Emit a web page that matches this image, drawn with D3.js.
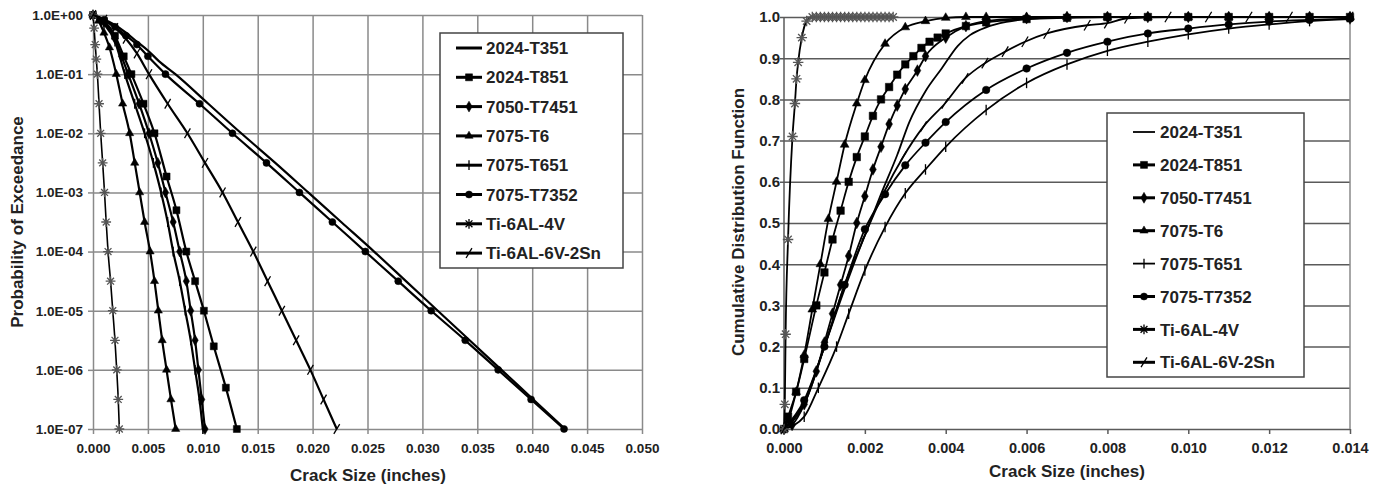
<!DOCTYPE html>
<html>
<head>
<meta charset="utf-8">
<script src="https://cdn.jsdelivr.net/npm/d3@7"></script>
<style>
  body { margin: 0; background: #fff; }
  svg { display: block; }
  text { font-family: Arial, "Liberation Sans", sans-serif; font-weight: bold; fill: #222; }
</style>
</head>
<body>
<svg id="chart" width="1386" height="486"></svg>
<script>
// series names (legend order)
var seriesNames = ["2024-T351", "2024-T851", "7050-T7451", "7075-T6", "7075-T651", "7075-T7352", "Ti-6AL-4V", "Ti-6AL-6V-2Sn"];

// left chart: probability of exceedance vs crack size (inches)
var exc2024T351 = [[0,1],[0.001,0.851],[0.002,0.676],[0.003,0.501],[0.004,0.355],[0.005,0.251],[0.006,0.166],[0.0075,0.1],[0.0105,0.0316],[0.0135,0.01],[0.0166,3.16e-3],[0.0196,1e-3],[0.0226,3.16e-4],[0.0256,1e-4],[0.0285,3.16e-5],[0.0314,1e-5],[0.0343,3.16e-6],[0.0372,1e-6],[0.0401,3.16e-7],[0.043,1e-7]];
var exc2024T851 = [[0,1],[0.001,0.794],[0.002,0.447],[0.0028,0.2],[0.0035,0.1],[0.0046,0.0316],[0.0056,0.01],[0.0067,1.86e-3],[0.0076,5e-4],[0.0085,1e-4],[0.0093,3.16e-5],[0.0101,1e-5],[0.011,2.5e-6],[0.0121,5e-7],[0.0131,1e-7]];
var exc7050T7451 = [[0,1],[0.001,0.759],[0.002,0.398],[0.0026,0.2],[0.0032,0.1],[0.0042,0.0316],[0.0051,0.01],[0.0059,3.16e-3],[0.0066,1e-3],[0.0073,3.16e-4],[0.0079,1e-4],[0.0085,3.16e-5],[0.0089,1e-5],[0.0093,3.16e-6],[0.0096,1e-6],[0.0099,3.16e-7],[0.0102,1e-7]];
var exc7075T6 = [[0,1],[0.0005,0.794],[0.001,0.501],[0.0015,0.282],[0.00212,0.1],[0.0027,0.0316],[0.00334,0.01],[0.0038,3.16e-3],[0.00425,1e-3],[0.0047,3.16e-4],[0.0052,1e-4],[0.0056,3.16e-5],[0.00595,1e-5],[0.0063,3.16e-6],[0.0067,1e-6],[0.0071,3.16e-7],[0.00753,1e-7]];
var exc7075T651 = [[0,1],[0.001,0.708],[0.002,0.355],[0.0029,0.1],[0.0038,0.0316],[0.0047,0.01],[0.0055,3.16e-3],[0.0062,1e-3],[0.0068,3.16e-4],[0.0073,1e-4],[0.0079,3.16e-5],[0.0084,1e-5],[0.0089,3.16e-6],[0.0093,1e-6],[0.0097,3.16e-7],[0.0100,1e-7]];
var exc7075T7352 = [[0,1],[0.001,0.832],[0.002,0.631],[0.003,0.447],[0.004,0.316],[0.005,0.2],[0.0066,0.1],[0.0097,0.0316],[0.0127,0.01],[0.0158,3.16e-3],[0.0188,1e-3],[0.0218,3.16e-4],[0.0248,1e-4],[0.0278,3.16e-5],[0.0308,1e-5],[0.0339,3.16e-6],[0.0369,1e-6],[0.0399,3.16e-7],[0.0429,1e-7]];
var excTi6Al4V = [[0,1],[0.0001,0.6],[0.0002,0.316],[0.0003,0.18],[0.0004,0.1],[0.00055,0.0316],[0.0007,0.01],[0.00088,3.16e-3],[0.00105,1e-3],[0.0012,3.16e-4],[0.00137,1e-4],[0.0016,3.16e-5],[0.0018,1e-5],[0.002,3.16e-6],[0.00216,1e-6],[0.0023,3.16e-7],[0.0024,1e-7]];
var excTi6Al6V2Sn = [[0,1],[0.001,0.832],[0.002,0.603],[0.003,0.398],[0.004,0.224],[0.0051,0.1],[0.0068,0.0316],[0.0086,0.01],[0.0102,3.16e-3],[0.0118,1e-3],[0.0132,3.16e-4],[0.0146,1e-4],[0.0159,3.16e-5],[0.0172,1e-5],[0.0185,3.16e-6],[0.0198,1e-6],[0.021,3.16e-7],[0.0222,1e-7]];

// right chart: cumulative distribution function vs crack size (inches)
var cdf2024T351 = [[0,0],[0.0005,0.06],[0.001,0.2],[0.0015,0.35],[0.002,0.47],[0.0024,0.57],[0.0028,0.665],[0.0031,0.745],[0.0035,0.82],[0.0039,0.875],[0.0043,0.93],[0.0046,0.956],[0.005,0.975],[0.0055,0.988],[0.006,0.995],[0.007,1],[0.008,1],[0.01,1],[0.012,1],[0.014,1]];
var cdf2024T851 = [[0,0],[0.0001,0.03],[0.0003,0.09],[0.0005,0.17],[0.0008,0.3],[0.001,0.38],[0.0012,0.46],[0.0014,0.53],[0.0016,0.6],[0.0018,0.66],[0.002,0.71],[0.0022,0.76],[0.0024,0.8],[0.0026,0.83],[0.0028,0.86],[0.003,0.885],[0.0032,0.905],[0.0034,0.925],[0.0036,0.94],[0.0038,0.95],[0.004,0.96],[0.0045,0.978],[0.005,0.987],[0.006,0.995],[0.007,0.998],[0.008,1],[0.009,1],[0.01,1],[0.011,1],[0.012,1],[0.013,1],[0.014,1]];
var cdf7050T7451 = [[0,0],[0.0002,0.01],[0.0005,0.06],[0.0008,0.14],[0.001,0.21],[0.0012,0.28],[0.0014,0.35],[0.0016,0.42],[0.0018,0.5],[0.002,0.565],[0.0022,0.63],[0.0024,0.685],[0.0026,0.74],[0.0028,0.785],[0.003,0.825],[0.0033,0.87],[0.0035,0.905],[0.004,0.95],[0.0045,0.978],[0.005,0.99],[0.006,0.997],[0.007,1],[0.008,1],[0.009,1],[0.01,1],[0.011,1],[0.012,1],[0.013,1],[0.014,1]];
var cdf7075T6 = [[0,0],[0.0001,0.02],[0.0003,0.09],[0.0005,0.18],[0.0007,0.29],[0.0009,0.4],[0.0011,0.51],[0.0013,0.6],[0.0015,0.69],[0.0018,0.79],[0.002,0.847],[0.0025,0.935],[0.003,0.975],[0.0035,0.99],[0.004,0.998],[0.0045,1],[0.005,1],[0.006,1],[0.007,1],[0.008,1],[0.009,1],[0.01,1],[0.011,1],[0.012,1],[0.013,1],[0.014,1]];
var cdf7075T651 = [[0,0],[0.0005,0.03],[0.00085,0.1],[0.0013,0.2],[0.0016,0.28],[0.002,0.385],[0.0025,0.49],[0.003,0.572],[0.0035,0.63],[0.004,0.685],[0.005,0.774],[0.006,0.84],[0.007,0.885],[0.008,0.918],[0.009,0.94],[0.01,0.958],[0.011,0.972],[0.012,0.982],[0.013,0.99],[0.014,0.995]];
var cdf7075T7352 = [[0,0],[0.0005,0.07],[0.001,0.2],[0.0015,0.35],[0.002,0.485],[0.0025,0.57],[0.003,0.64],[0.0035,0.695],[0.004,0.745],[0.005,0.823],[0.006,0.875],[0.007,0.913],[0.008,0.94],[0.009,0.96],[0.01,0.972],[0.011,0.982],[0.012,0.989],[0.013,0.993],[0.014,0.996]];
var cdfTi6Al4V = [[0,0],[0.00002,0.06],[0.00004,0.23],[0.0001,0.46],[0.00021,0.71],[0.00027,0.79],[0.00031,0.85],[0.00035,0.89],[0.00044,0.95],[0.00056,0.99],[0.0007,1],[0.0008,1],[0.0009,1],[0.001,1],[0.0011,1],[0.0012,1],[0.0013,1],[0.0014,1],[0.0015,1],[0.0016,1],[0.0017,1],[0.0018,1],[0.0019,1],[0.002,1],[0.0021,1],[0.0022,1],[0.0023,1],[0.0024,1],[0.0025,1],[0.0026,1],[0.0027,1]];
var cdfTi6Al6V2Sn = [[0,0],[0.0005,0.065],[0.001,0.2],[0.0015,0.34],[0.002,0.47],[0.0025,0.58],[0.00295,0.661],[0.00345,0.734],[0.00398,0.79],[0.00448,0.851],[0.00497,0.888],[0.00547,0.916],[0.00596,0.94],[0.0065,0.96],[0.0075,0.98],[0.008,0.985],[0.0085,0.997],[0.0095,1],[0.0105,1],[0.0115,1],[0.0125,1],[0.014,1]];

// tick values / labels
var xTicksLeft = [0, 0.005, 0.01, 0.015, 0.02, 0.025, 0.03, 0.035, 0.04, 0.045, 0.05];
var yTicksLeft = [1e-7, 1e-6, 1e-5, 1e-4, 1e-3, 1e-2, 1e-1, 1];
var yTickLabelsLeft = ["1.0E-07", "1.0E-06", "1.0E-05", "1.0E-04", "1.0E-03", "1.0E-02", "1.0E-01", "1.0E+00"];
var xTicksRight = [0, 0.002, 0.004, 0.006, 0.008, 0.01, 0.012, 0.014];
var yTicksRight = [0, 0.1, 0.2, 0.3, 0.4, 0.5, 0.6, 0.7, 0.8, 0.9, 1.0];

var leftSeries = [exc2024T351, exc2024T851, exc7050T7451, exc7075T6, exc7075T651, exc7075T7352, excTi6Al4V, excTi6Al6V2Sn];
var rightSeries = [cdf2024T351, cdf2024T851, cdf7050T7451, cdf7075T6, cdf7075T651, cdf7075T7352, cdfTi6Al4V, cdfTi6Al6V2Sn];

// marker style per series
var markerTypes = ["none", "square", "diamond", "triangle", "plus", "circle", "asterisk", "hash"];

var svg = d3.select("#chart");

function markerPath(type, s) {
  if (type === "square") return d3.symbol(d3.symbolSquare, s * s)();
  if (type === "diamond") return d3.symbol(d3.symbolDiamond, s * s * 0.7)();
  if (type === "triangle") return d3.symbol(d3.symbolTriangle, s * s * 0.6)();
  if (type === "circle") return d3.symbol(d3.symbolCircle, s * s * 0.8)();
  var h = s * 0.7;
  if (type === "plus") return "M0," + (-h) + "V" + h;
  if (type === "asterisk") return "M" + (-h) + ",0H" + h + "M0," + (-h) + "V" + h + "M" + (-h * 0.7) + "," + (-h * 0.7) + "L" + (h * 0.7) + "," + (h * 0.7) + "M" + (-h * 0.7) + "," + (h * 0.7) + "L" + (h * 0.7) + "," + (-h * 0.7);
  if (type === "hash") return "M" + (-h * 0.6) + "," + (h) + "L" + (h * 0.6) + "," + (-h);
  return null;
}
function isFilled(type) {
  return type === "square" || type === "diamond" || type === "triangle" || type === "circle";
}

function drawMarkers(g, pts, type, s, color) {
  if (type === "none") return;
  g.selectAll(null)
    .data(pts)
    .enter()
    .append("path")
    .attr("transform", function(d) { return "translate(" + d[0] + "," + d[1] + ")"; })
    .attr("d", markerPath(type, s))
    .attr("fill", isFilled(type) ? color : "none")
    .attr("stroke", color)
    .attr("stroke-width", isFilled(type) ? 0.5 : 1.3);
}

function styleAxis(g, gridColor) {
  g.select(".domain").remove();
  g.selectAll(".tick line").attr("stroke", gridColor).attr("stroke-width", 1.5);
  g.selectAll(".tick text").attr("font-size", 13.5).attr("fill", "#222");
}

// ---------------- left chart ----------------
var xL = d3.scaleLinear().domain([0, 0.05]).range([93, 642]);
var yL = d3.scaleLog().domain([1e-7, 1]).range([429, 15]);
var gLeft = svg.append("g");

// grid
gLeft.append("g")
  .attr("transform", "translate(0,15)")
  .call(d3.axisBottom(xL).tickValues(xTicksLeft).tickSize(414).tickFormat(""))
  .call(styleAxis, "#8a8a8a");
gLeft.append("g")
  .attr("transform", "translate(93,0)")
  .call(d3.axisRight(yL).tickValues(yTicksLeft).tickSize(549).tickFormat(""))
  .call(styleAxis, "#8a8a8a");

// axes
gLeft.append("g")
  .attr("transform", "translate(0,429)")
  .call(d3.axisBottom(xL).tickValues(xTicksLeft).tickSize(5).tickPadding(9).tickFormat(d3.format(".3f")))
  .call(styleAxis, "#8a8a8a");
gLeft.append("g")
  .attr("transform", "translate(93,0)")
  .call(d3.axisLeft(yL).tickValues(yTicksLeft).tickSize(5).tickPadding(5).tickFormat(function(d, i) { return yTickLabelsLeft[i]; }))
  .call(styleAxis, "#8a8a8a");

var lineL = d3.line()
  .x(function(d) { return xL(d[0]); })
  .y(function(d) { return yL(d[1]); })
  .curve(d3.curveMonotoneX);

leftSeries.forEach(function(s, i) {
  var col = i === 6 ? "#555" : "#000";
  gLeft.append("path")
    .attr("d", lineL(s))
    .attr("fill", "none")
    .attr("stroke", "#000")
    .attr("stroke-width", i === 6 ? 1.6 : 2.2);
  drawMarkers(gLeft, s.map(function(d) { return [xL(d[0]), yL(d[1])]; }), markerTypes[i], 7, col);
});

gLeft.append("text")
  .attr("x", 368).attr("y", 481)
  .attr("text-anchor", "middle")
  .attr("font-size", 17)
  .text("Crack Size (inches)");
gLeft.append("text")
  .attr("transform", "translate(23,222) rotate(-90)")
  .attr("text-anchor", "middle")
  .attr("font-size", 17)
  .text("Probability of Exceedance");

// left legend
var legL = gLeft.append("g");
legL.append("rect")
  .attr("x", 440).attr("y", 33).attr("width", 183).attr("height", 235)
  .attr("fill", "#fff").attr("stroke", "#444").attr("stroke-width", 1.5);
seriesNames.forEach(function(name, i) {
  var y = 48 + i * 29.3;
  legL.append("line")
    .attr("x1", 456).attr("x2", 482).attr("y1", y).attr("y2", y)
    .attr("stroke", "#000").attr("stroke-width", 3);
  drawMarkers(legL, [[469, y]], markerTypes[i], 7, "#000");
  legL.append("text")
    .attr("x", 486).attr("y", y).attr("dy", "0.36em")
    .attr("font-size", 17)
    .text(name);
});

// ---------------- right chart ----------------
var xR = d3.scaleLinear().domain([0, 0.014]).range([784, 1350]);
var yR = d3.scaleLinear().domain([0, 1]).range([429, 17]);
var gRight = svg.append("g");

gRight.append("g")
  .attr("transform", "translate(780,0)")
  .call(d3.axisRight(yR).tickValues(yTicksRight).tickSize(570).tickFormat(""))
  .call(styleAxis, "#5a5a5a");
gRight.append("line")
  .attr("x1", xR(0.014)).attr("x2", xR(0.014)).attr("y1", yR(1)).attr("y2", yR(0))
  .attr("stroke", "#8a8a8a").attr("stroke-width", 1.5);
gRight.append("line")
  .attr("x1", xR(0)).attr("x2", xR(0)).attr("y1", yR(1)).attr("y2", yR(0))
  .attr("stroke", "#5a5a5a").attr("stroke-width", 1.5);

gRight.append("g")
  .attr("transform", "translate(0,429)")
  .call(d3.axisBottom(xR).tickValues(xTicksRight).tickSize(5).tickPadding(9).tickFormat(d3.format(".3f")))
  .call(styleAxis, "#5a5a5a")
  .selectAll(".tick text").attr("font-size", 14.5);
gRight.append("g")
  .attr("transform", "translate(784,0)")
  .call(d3.axisLeft(yR).tickValues(yTicksRight).tickSize(0).tickPadding(4).tickFormat(d3.format(".1f")))
  .call(styleAxis, "#5a5a5a")
  .selectAll(".tick text").attr("font-size", 15);

var lineR = d3.line()
  .x(function(d) { return xR(d[0]); })
  .y(function(d) { return yR(d[1]); })
  .curve(d3.curveMonotoneX);

rightSeries.forEach(function(s, i) {
  var col = i === 6 ? "#555" : "#000";
  gRight.append("path")
    .attr("d", lineR(s))
    .attr("fill", "none")
    .attr("stroke", "#000")
    .attr("stroke-width", 1.8);
  drawMarkers(gRight, s.map(function(d) { return [xR(d[0]), yR(d[1])]; }), markerTypes[i], 7.5, col);
});

gRight.append("text")
  .attr("x", 1067).attr("y", 477)
  .attr("text-anchor", "middle")
  .attr("font-size", 17)
  .text("Crack Size (inches)");
gRight.append("text")
  .attr("transform", "translate(744,222) rotate(-90)")
  .attr("text-anchor", "middle")
  .attr("font-size", 17)
  .text("Cumulative Distribution Function");

// right legend
var legR = gRight.append("g");
legR.append("rect")
  .attr("x", 1107).attr("y", 113).attr("width", 197).attr("height", 264)
  .attr("fill", "#fff").attr("stroke", "#444").attr("stroke-width", 1.5);
seriesNames.forEach(function(name, i) {
  var y = 132 + i * 32.9;
  legR.append("line")
    .attr("x1", 1133).attr("x2", 1155).attr("y1", y).attr("y2", y)
    .attr("stroke", "#000").attr("stroke-width", i === 0 || i === 4 ? 1.8 : 3);
  drawMarkers(legR, [[1144, y]], markerTypes[i], 7, "#000");
  legR.append("text")
    .attr("x", 1160).attr("y", y).attr("dy", "0.36em")
    .attr("font-size", 17)
    .text(name);
});
</script>
</body>
</html>
